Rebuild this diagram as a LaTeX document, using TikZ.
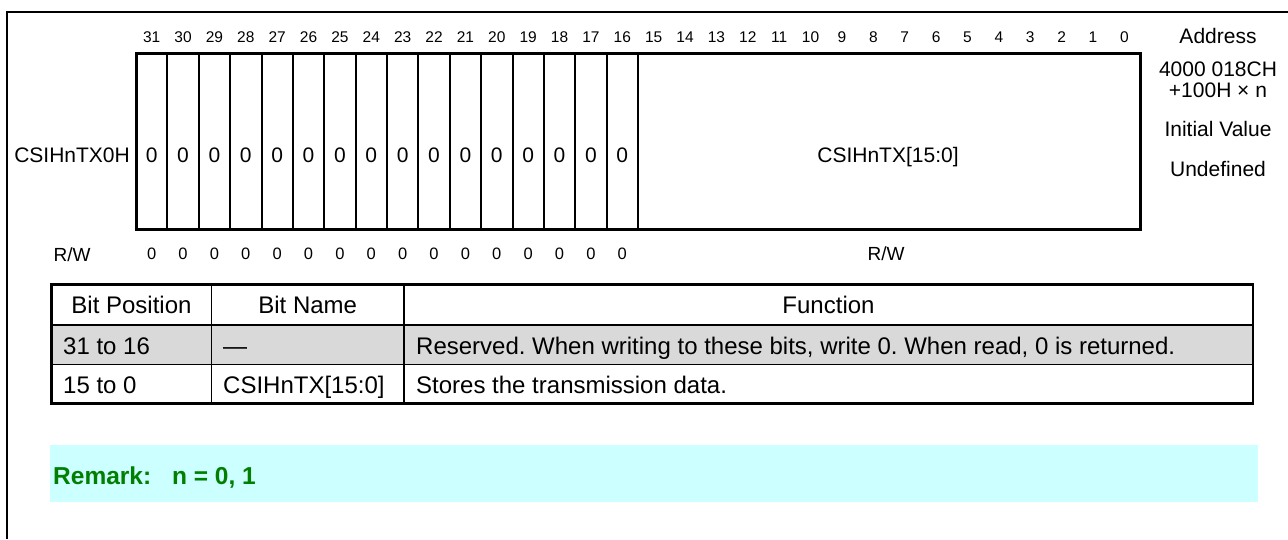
\documentclass[tikz,border=0pt]{standalone}
\usepackage{fontspec}
\setmainfont{Liberation Sans}
\usetikzlibrary{positioning}
\frenchspacing

\definecolor{rowgray}{HTML}{D9D9D9}
\definecolor{remarkcyan}{HTML}{CCFFFF}
\definecolor{remarkgreen}{HTML}{007F00}

\tikzset{
  bitnum/.style={inner sep=0pt, anchor=base, font=\fontsize{15.5}{18}\selectfont},
  accval/.style={inner sep=0pt, anchor=base, font=\fontsize{16.5}{19}\selectfont},
  acctext/.style={inner sep=0pt, anchor=base, font=\fontsize{19}{22}\selectfont},
  cellval/.style={inner sep=0pt, anchor=base, font=\fontsize{21}{24}\selectfont},
  reglabel/.style={inner sep=0pt, anchor=base, font=\fontsize{21}{24}\selectfont},
  tabhead/.style={inner sep=0pt, anchor=base, font=\fontsize{24}{28}\selectfont},
  tabcell/.style={tabhead, anchor=base west},
  remarktext/.style={inner sep=0pt, anchor=base west, text=remarkgreen, font=\fontsize{24.5}{28}\selectfont\bfseries},
}

\begin{document}
\begin{tikzpicture}[x=1pt, y=-1pt]
  \useasboundingbox (0,0) rectangle (1288,539);

  % Frame
  \draw[line width=2pt] (7,539) -- (7,12) -- (1288,12);

  % Register
  \draw[line width=3pt] (136,53) rectangle (1140,229);
  \foreach \i in {1,...,16}
    \draw[line width=2pt] ({136+\i*31.375},53) -- ({136+\i*31.375},229);
  \foreach \i in {0,...,31}
    \node[bitnum] (bit\i) at ({1140-(\i+0.5)*31.375},42.7) {\i};
  \foreach \i in {16,...,31} {
    \node[cellval] (val\i) at ({1140-(\i+0.5)*31.375},162.7) {0};
    \node[accval] (acc\i) at ({1140-(\i+0.5)*31.375},259.5) {0};
  }
  \node[cellval] (field) at (888,162.7) {CSIHnTX[15:0]};
  \node[acctext] (accfield) at (886,260) {R/W};
  \node[reglabel, anchor=base east] (regname) at (130,162.7) {CSIHnTX0H};
  \node[acctext] (acclabel) at (72,261) {R/W};

  % Address and initial value
  \node[reglabel] (addr) at (1218,43.3) {Address};
  \node[reglabel] (addrval) at (1218,76) {4000 018CH};
  \node[reglabel] (addroff) at (1218,97.3) {+100H × n};
  \node[reglabel] (init) at (1218,136.7) {Initial Value};
  \node[reglabel] (initval) at (1218,176.7) {Undefined};

  % Table
  \fill[rowgray] (51.5,325) rectangle (1253,364.5);
  \draw[line width=1.5pt] (51.5,325) -- (1253,325) (51.5,364.5) -- (1253,364.5);
  \draw[line width=1.5pt] (211.5,284.5) -- (211.5,403.5) (404,284.5) -- (404,403.5);
  \draw[line width=2.5pt] (51.5,284.5) rectangle (1253,403.5);
  \node[tabhead] (hpos) at (131.5,313.3) {Bit Position};
  \node[tabhead] (hname) at (307.75,313.3) {Bit Name};
  \node[tabhead] (hfunc) at (828.5,313.3) {Function};
  \node[tabcell] (pos1) at (63,354) {31 to 16};
  \node[tabcell] (name1) at (223,354) {—};
  \node[tabcell] (func1) at (416,354) {Reserved. When writing to these bits, write 0. When read, 0 is returned.};
  \node[tabcell] (pos2) at (63,393) {15 to 0};
  \node[tabcell] (name2) at (223,393) {CSIHnTX[15:0]};
  \node[tabcell] (func2) at (416,393) {Stores the transmission data.};

  % Remark
  \fill[remarkcyan] (50,445) rectangle (1258,502);
  \node[remarktext] (remark) at (53,484) {Remark:\hspace{0.85em}n = 0, 1};
\end{tikzpicture}
\end{document}
